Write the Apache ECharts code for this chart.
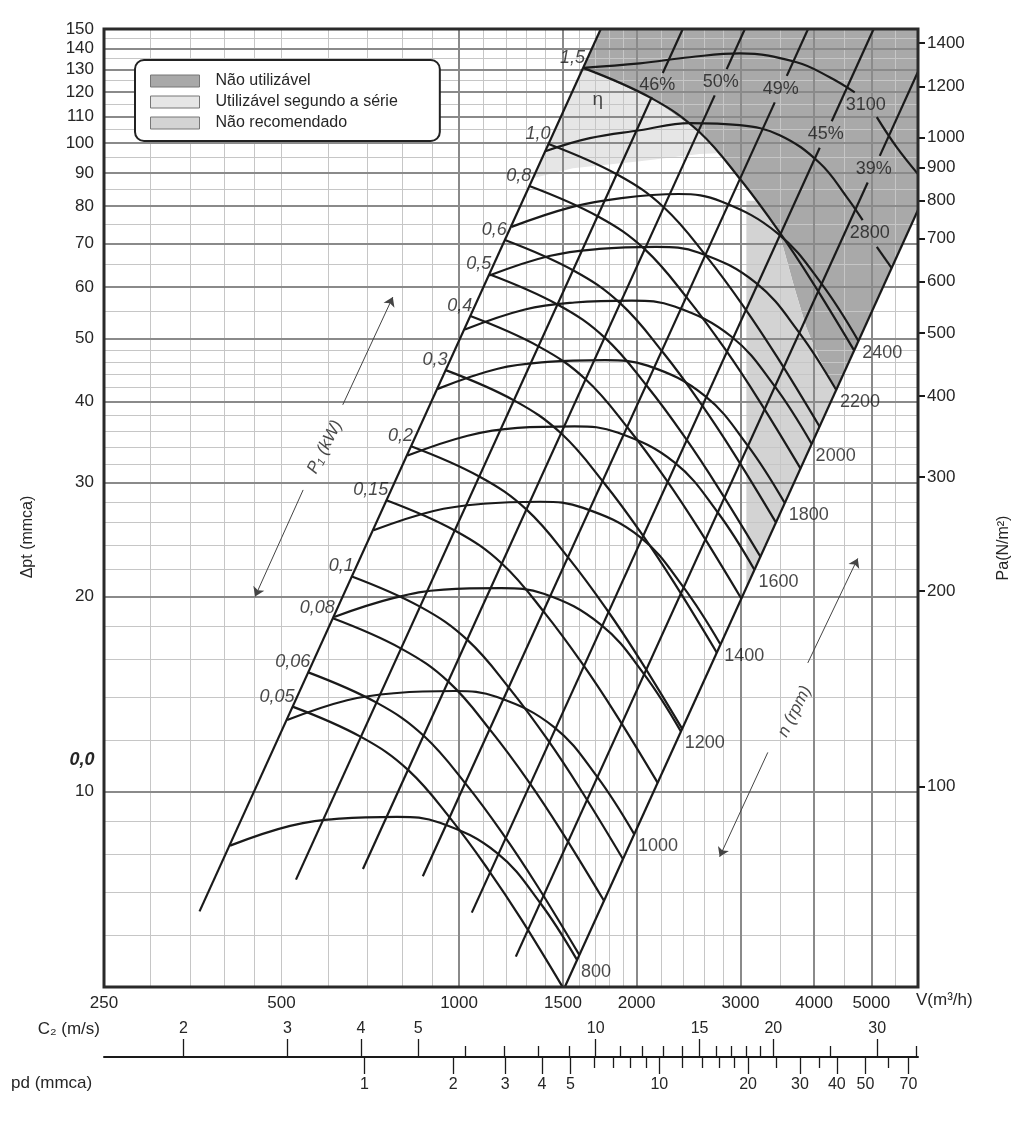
<!DOCTYPE html>
<html>
<head>
<meta charset="utf-8">
<title>Curvas do ventilador</title>
<script src="https://cdn.jsdelivr.net/npm/echarts@6/dist/echarts.min.js"></script>
<style>
  html, body { margin: 0; padding: 0; background: #fff; }
  #chart { width: 1024px; height: 1122px; }
</style>
</head>
<body>
<div id="chart"></div>
<script>
// ---- eixos ----
const vMin = 250, vMax = 6000;          // V (m3/h)
const pMin = 5, pMax = 150;             // delta pt (mmca)
const PA_PER_MMCA = 9.81;
const vLabels = [250, 500, 1000, 1500, 2000, 3000, 4000, 5000];
const pLabels = [10, 20, 30, 40, 50, 60, 70, 80, 90, 100, 110, 120, 130, 140, 150];
const paLabels = [100, 200, 300, 400, 500, 600, 700, 800, 900, 1000, 1200, 1400];
const vGridMajor = [1000, 1500, 2000, 3000, 4000, 5000];
const vGridMinor = [300, 350, 400, 450, 500, 600, 700, 800, 900, 1100, 1200, 1300, 1400,
  1600, 1700, 1800, 1900, 2200, 2400, 2600, 2800, 3500, 4500, 5500];
const pGridMajor = [10, 20, 30, 40, 50, 60, 70, 80, 90, 100, 110, 120, 130, 140];
const pGridMinor = [6, 7, 8, 9, 12, 14, 16, 18, 22, 24, 26, 28, 32, 34, 36, 38, 42, 44, 46, 48,
  55, 65, 75, 85, 95, 105, 115, 125, 135, 145];

// ---- escala inferior (C2 e pd) ----
const V_PER_C2 = 170.5;   // m3/h por m/s
const V_AT_PD1 = 691;     // m3/h onde pd = 1 mmca
const c2Major = [2, 3, 4, 5, 10, 15, 20, 30];
const c2Minor = [6, 7, 8, 9, 11, 12, 13, 14, 16, 17, 18, 19, 25, 35];
const pdMajor = [1, 2, 3, 4, 5, 10, 20, 30, 40, 50, 70];
const pdMinor = [6, 7, 8, 9, 12, 14, 16, 18, 25, 35, 60];

// ---- curvas de rotacao [V, dpt] (null = interrupcao pelo rotulo) ----
const rpmNames = ['800', '1000', '1200', '1400', '1600', '1800', '2000', '2200', '2400', '2800', '3100'];
const rpm800 = [[409, 8.26], [517, 8.86], [628, 9.09], [785, 9.15], [928, 8.96], [1159, 8.05], [1371, 6.75], [1584, 5.51]];
const rpm1000 = [[511, 12.9], [646, 13.84], [785, 14.2], [981, 14.3], [1160, 14.0], [1449, 12.58], [1714, 10.55], [1980, 8.61]];
const rpm1200 = [[614, 18.6], [776, 19.9], [942, 20.5], [1178, 20.6], [1392, 20.2], [1739, 18.1], [2057, 15.2], [2376, 12.4]];
const rpm1400 = [[716, 25.3], [905, 27.1], [1099, 27.8], [1374, 28.0], [1624, 27.4], [2028, 24.7], [2399, 20.7], [2772, 16.9]];
const rpm1600 = [[818, 33.0], [1034, 35.4], [1256, 36.4], [1570, 36.6], [1856, 35.8], [2318, 32.2], [2742, 27.0], [3168, 22.0]];
const rpm1800 = [[920, 41.8], [1163, 44.9], [1413, 46.0], [1766, 46.3], [2088, 45.4], [2608, 40.8], [3085, 34.2], [3564, 27.9]];
const rpm2000 = [[1023, 51.6], [1293, 55.4], [1570, 56.8], [1963, 57.2], [2320, 56.0], [2898, 50.3], [3428, 42.2], [3960, 34.4]];
const rpm2200 = [[1125, 62.5], [1422, 67.0], [1727, 68.7], [2159, 69.2], [2552, 67.8], [3187, 60.9], [3770, 51.1], [4356, 41.7]];
const rpm2400 = [[1227, 74.3], [1551, 79.7], [1884, 82.3], [2355, 83.5], [2784, 81.3], [3477, 72.5], [4113, 60.8], [4752, 49.6]];
const rpm2800 = [[1400, 97.2], [1666, 101.8], [2025, 104.7], [2461, 107.4], [2992, 106.6], [3497, 102.9], [4088, 93.2],
  [4543, 82.6], [4834, 76.1], null, [5108, 69.2], [5415, 64.2]];
const rpm3100 = [[1623, 130.7], [2025, 132.8], [2461, 135.7], [2992, 137.6], [3736, 133.3], [4250, 126.4], [4687, 119.8],
  null, [5108, 109.7], [5520, 98.6], [6000, 89.6]];
const rpmCurves = [rpm800, rpm1000, rpm1200, rpm1400, rpm1600, rpm1800, rpm2000, rpm2200, rpm2400, rpm2800, rpm3100];

// ---- curvas de potencia P1 (kW) ----
const powerNames = ['0,05', '0,06', '0,08', '0,1', '0,15', '0,2', '0,3', '0,4', '0,5', '0,6', '0,8', '1,0', '1,5'];
const p005 = [[522, 13.53], [683, 12.14], [821, 10.79], [971, 9.05], [1121, 7.58], [1276, 6.35], [1506, 4.96]];
const p006 = [[555, 15.28], [726, 13.71], [872, 12.19], [1032, 10.22], [1192, 8.56], [1356, 7.17], [1600, 5.60]];
const p008 = [[611, 18.51], [799, 16.61], [960, 14.77], [1135, 12.38], [1312, 10.37], [1492, 8.69], [1761, 6.79]];
const p010 = [[658, 21.48], [860, 19.28], [1034, 17.13], [1223, 14.36], [1413, 12.03], [1607, 10.08], [1897, 7.87]];
const p015 = [[753, 28.15], [985, 25.26], [1184, 22.45], [1400, 18.82], [1617, 15.77], [1840, 13.21], [2172, 10.32]];
const p020 = [[829, 34.1], [1084, 30.6], [1303, 27.2], [1541, 22.8], [1780, 19.1], [2025, 16.0], [2390, 12.5]];
const p030 = [[949, 44.68], [1241, 40.1], [1492, 35.64], [1764, 29.88], [2038, 25.03], [2318, 20.97], [2736, 16.38]];
const p040 = [[1045, 54.13], [1366, 48.57], [1642, 43.18], [1942, 36.19], [2243, 30.32], [2551, 25.4], [3011, 19.84]];
const p050 = [[1125, 62.81], [1471, 56.37], [1768, 50.1], [2092, 42.0], [2416, 35.18], [2748, 29.47], [3244, 23.03]];
const p060 = [[1196, 70.93], [1563, 63.65], [1879, 56.58], [2223, 47.43], [2567, 39.73], [2921, 33.28], [3447, 26.0]];
const p080 = [[1316, 85.93], [1721, 77.11], [2068, 68.54], [2446, 57.45], [2826, 48.13], [3215, 40.32], [3794, 31.5]];
const p100 = [[1418, 99.71], [1854, 89.47], [2228, 79.53], [2635, 66.67], [3044, 55.85], [3463, 46.78], [4087, 36.55]];
const p150 = [[1623, 130.65], [2122, 117.24], [2550, 104.22], [3016, 87.36], [3484, 73.18], [3964, 61.3], [4678, 47.89]];
const powerCurves = [p005, p006, p008, p010, p015, p020, p030, p040, p050, p060, p080, p100, p150];

// ---- retas de rendimento (dpt ~ V^2) ----
const effNames = ['46%', '50%', '49%', '45%', '39%'];
const dLine1 = [[363, 6.54], [1739, 150]];
const dLine2 = [[529, 7.32], [2122, 117.8], null, [2215, 128.3], [2395, 150]];
const dLine3 = [[687, 7.6], [2713, 118.5], null, [2843, 130.1], [3052, 150]];
const dLine4 = [[868, 7.41], [3430, 115.6], null, [3595, 127], [3906, 150]];
const dLine5 = [[1051, 6.51], [4088, 98.4], null, [4284, 108.1], [5046, 150]];
const dLine6 = [[1248, 5.57], [4930, 87], null, [5168, 95.6], [6000, 128.9]];
const dLine7 = [[1511, 5], [6000, 78.9]];
const effLines = [dLine2, dLine3, dLine4, dLine5, dLine6];

// ---- zonas ----
const zoneNames = ['Não utilizável', 'Utilizável segundo a série', 'Não recomendado'];
const darkZone = [[1623, 130.65], [1739, 150], [6000, 150], [6000, 78.9], [4360, 41.6], [4250, 43.5], [4080, 46.5],
  [3880, 52], [3700, 60], [3484, 73.18], [3016, 87.36], [2550, 104.22], [2122, 117.24]];
const serieZone = [[1334, 88.3], [1559, 91.5], [2025, 93.8], [2559, 96.2], [2745, 96.5], [2550, 104.22],
  [2122, 117.24], [1623, 130.65]];
const recoZone = [[3070, 81.5], [3192, 81.5], [3484, 73.18], [3700, 60], [3880, 52], [4080, 46.5], [4250, 43.5],
  [4360, 41.6], [3070, 20.64]];

// ---- setas e textos auxiliares ----
const powerArrows = [[[635, 39.5], [772, 57.9]], [[544, 29.2], [451, 20.0]]];
const rpmArrows = [[[3902, 15.8], [4742, 22.9]], [[3338, 11.5], [2766, 7.94]]];
const powerTitleAt = [592, 34.0];
const rpmTitleAt = [3707, 13.3];
const etaAt = [1719, 116.5];

const FONT = "'Liberation Sans', Arial, 'DejaVu Sans', sans-serif";
const INK = '#1a1a1a';
const TXT = '#262626';

function segments(pts) {
  const out = [[]];
  pts.forEach(p => { if (p === null) out.push([]); else out[out.length - 1].push(p); });
  return out;
}
function gapCenter(pts) {
  const i = pts.indexOf(null);
  const a = pts[i - 1], b = pts[i + 1];
  return [Math.sqrt(a[0] * b[0]), Math.sqrt(a[1] * b[1])];
}
function curveSeries(pts, smooth) {
  return segments(pts).map(seg => ({
    type: 'line', data: seg, smooth: smooth, showSymbol: false, symbol: 'none', silent: true, z: 4,
    lineStyle: { color: INK, width: 2.2 }
  }));
}
function labelSeries(items, labelOpt) {
  return {
    type: 'scatter', silent: true, z: 6, symbolSize: 0.1,
    itemStyle: { color: INK },
    label: Object.assign({ show: true, formatter: '{b}', color: INK, fontFamily: FONT, fontSize: 18 }, labelOpt),
    data: items.map(it => ({ name: it[0], value: it[1] }))
  };
}
function zoneSeries(name, color, pts) {
  return {
    type: 'custom', name: name, coordinateSystem: 'cartesian2d', silent: true, z: 1,
    itemStyle: { color: color },
    data: [pts[0]],
    renderItem: (params, api) => ({
      type: 'polygon',
      shape: { points: pts.map(p => api.coord(p)) },
      style: { fill: color }
    })
  };
}
const roundFmt = v => String(Math.round(v));
const labelStyle = { fontSize: 17, color: TXT, fontFamily: FONT, formatter: roundFmt };

const series = [];
series.push(zoneSeries(zoneNames[0], '#a9a9a9', darkZone));
series.push(zoneSeries(zoneNames[1], '#e6e6e6', serieZone));
series.push(zoneSeries(zoneNames[2], '#d3d3d3', recoZone));

// grade
const gMinor = { color: '#c6c6c6', width: 1, type: 'solid' };
const gMajor = { color: '#8a8a8a', width: 2, type: 'solid' };
series.push({
  type: 'line', data: [[vMin, pMin]], showSymbol: false, silent: true, z: 2,
  markLine: {
    z: 2, silent: true, symbol: ['none', 'none'], label: { show: false }, animation: false,
    data: [].concat(
      vGridMinor.map(v => ({ xAxis: v, lineStyle: gMinor })),
      pGridMinor.map(v => ({ yAxis: v, lineStyle: gMinor })),
      vGridMajor.map(v => ({ xAxis: v, lineStyle: gMajor })),
      pGridMajor.map(v => ({ yAxis: v, lineStyle: gMajor }))
    )
  }
});

// retas
[dLine1, dLine7].concat(effLines).forEach(l => series.push(...curveSeries(l, false)));
// curvas
rpmCurves.forEach(c => series.push(...curveSeries(c, 0.4)));
powerCurves.forEach(c => series.push(...curveSeries(c, 0.4)));

// rotulos
series.push(labelSeries(effLines.map((l, i) => [effNames[i], gapCenter(l)]), { position: 'inside' }));
series.push(labelSeries(
  rpmCurves.filter(c => !c.includes(null)).map((c, i) => [rpmNames[i], c[c.length - 1]]),
  { position: 'right', distance: 2, offset: [2, 12] }));
series.push(labelSeries(
  rpmCurves.filter(c => c.includes(null)).map((c, i) => [rpmNames[rpmNames.length - 2 + i], gapCenter(c)]),
  { position: 'inside' }));
series.push(labelSeries(powerCurves.map((c, i) => [powerNames[i], c[0]]),
  { position: 'left', distance: 0, offset: [2, -10], fontStyle: 'italic' }));
series.push(labelSeries([['η', etaAt]], { position: 'inside', fontSize: 19 }));
series.push(labelSeries([['P₁ (kW)', powerTitleAt]], { position: 'inside', rotate: 63, fontStyle: 'italic', fontSize: 17 }));
series.push(labelSeries([['n (rpm)', rpmTitleAt]], { position: 'inside', rotate: 63, fontStyle: 'italic', fontSize: 17 }));

// setas
series.push({
  type: 'line', data: [[vMin, pMin]], showSymbol: false, silent: true, z: 3,
  markLine: {
    z: 3, silent: true, symbol: ['none', 'arrow'], symbolSize: 9, label: { show: false }, animation: false,
    lineStyle: { color: '#444', width: 1, type: 'solid' },
    data: powerArrows.concat(rpmArrows).map(a => [{ coord: a[0] }, { coord: a[1] }])
  }
});

const bottomAxis = (min, max, ticks, inside, len, labels) => ({
  gridIndex: 1, type: 'log', logBase: 10, min: min, max: max, position: 'bottom',
  axisLine: { show: false },
  axisTick: { show: true, inside: inside, length: len, customValues: ticks, lineStyle: { color: INK, width: 1.3 } },
  axisLabel: labels ? Object.assign({ show: true, inside: inside, margin: 20, customValues: ticks }, labelStyle, { fontSize: 16 })
    : { show: false },
  splitLine: { show: false }
});

const option = {
  animation: false,
  backgroundColor: '#fff',
  grid: [
    { left: 104, top: 29, width: 814, height: 958, show: true, borderColor: '#2a2a2a', borderWidth: 3, z: 8 },
    { left: 104, top: 1000, width: 814, height: 57, show: false }
  ],
  legend: {
    data: zoneNames, orient: 'vertical', left: 135, top: 60, icon: 'rect', z: 12,
    itemWidth: 49, itemHeight: 12, itemGap: 5, selectedMode: false,
    padding: [13, 42, 10, 15], backgroundColor: '#fff', borderColor: '#222', borderWidth: 2, borderRadius: 9,
    itemStyle: { borderColor: '#777', borderWidth: 1 },
    textStyle: { fontSize: 16, fontFamily: FONT, color: TXT, lineHeight: 16, padding: [0, 0, 0, 11] }
  },
  xAxis: [
    {
      gridIndex: 0, type: 'log', logBase: 10, min: vMin, max: vMax,
      axisLine: { show: false }, axisTick: { show: false }, splitLine: { show: false },
      axisLabel: Object.assign({ customValues: vLabels, margin: 8 }, labelStyle)
    },
    Object.assign(bottomAxis(vMin / V_PER_C2, vMax / V_PER_C2, c2Major, true, 18, true),
      { axisLine: { show: true, lineStyle: { color: INK, width: 2 } } }),
    bottomAxis(vMin / V_PER_C2, vMax / V_PER_C2, c2Minor, true, 11, false),
    bottomAxis(Math.pow(vMin / V_AT_PD1, 2), Math.pow(vMax / V_AT_PD1, 2), pdMajor, false, 17, true),
    bottomAxis(Math.pow(vMin / V_AT_PD1, 2), Math.pow(vMax / V_AT_PD1, 2), pdMinor, false, 11, false)
  ],
  yAxis: [
    {
      gridIndex: 0, type: 'log', logBase: 10, min: pMin, max: pMax, position: 'left',
      axisLine: { show: false }, axisTick: { show: false }, splitLine: { show: false },
      axisLabel: Object.assign({ customValues: pLabels, margin: 10 }, labelStyle)
    },
    {
      gridIndex: 0, type: 'log', logBase: 10, min: pMin * PA_PER_MMCA, max: pMax * PA_PER_MMCA, position: 'right',
      axisLine: { show: false }, splitLine: { show: false },
      axisTick: { show: true, customValues: paLabels, length: 7, lineStyle: { color: INK, width: 2 } },
      axisLabel: Object.assign({ customValues: paLabels, margin: 9 }, labelStyle)
    },
    { gridIndex: 1, type: 'value', show: false }
  ],
  graphic: [
    { type: 'text', x: 28, y: 537, rotation: Math.PI / 2,
      style: { text: 'Δpt (mmca)', fontSize: 16, fontFamily: FONT, fill: TXT, align: 'center', verticalAlign: 'middle' } },
    { type: 'text', x: 1004, y: 548, rotation: Math.PI / 2,
      style: { text: 'Pa(N/m²)', fontSize: 16, fontFamily: FONT, fill: TXT, align: 'center', verticalAlign: 'middle' } },
    { type: 'text', x: 916, y: 1000,
      style: { text: 'V(m³/h)', fontSize: 17, fontFamily: FONT, fill: TXT, align: 'left', verticalAlign: 'middle' } },
    { type: 'text', x: 100, y: 1029,
      style: { text: 'C₂ (m/s)', fontSize: 17, fontFamily: FONT, fill: TXT, align: 'right', verticalAlign: 'middle' } },
    { type: 'text', x: 11, y: 1083,
      style: { text: 'pd (mmca)', fontSize: 17, fontFamily: FONT, fill: TXT, align: 'left', verticalAlign: 'middle' } },
    { type: 'text', x: 82, y: 760,
      style: { text: '0,0', fontSize: 18, fontStyle: 'italic', fontWeight: 'bold', fontFamily: FONT, fill: TXT,
        align: 'center', verticalAlign: 'middle' } }
  ],
  series: series
};

const chart = echarts.init(document.getElementById('chart'));
chart.setOption(option);
</script>
</body>
</html>
